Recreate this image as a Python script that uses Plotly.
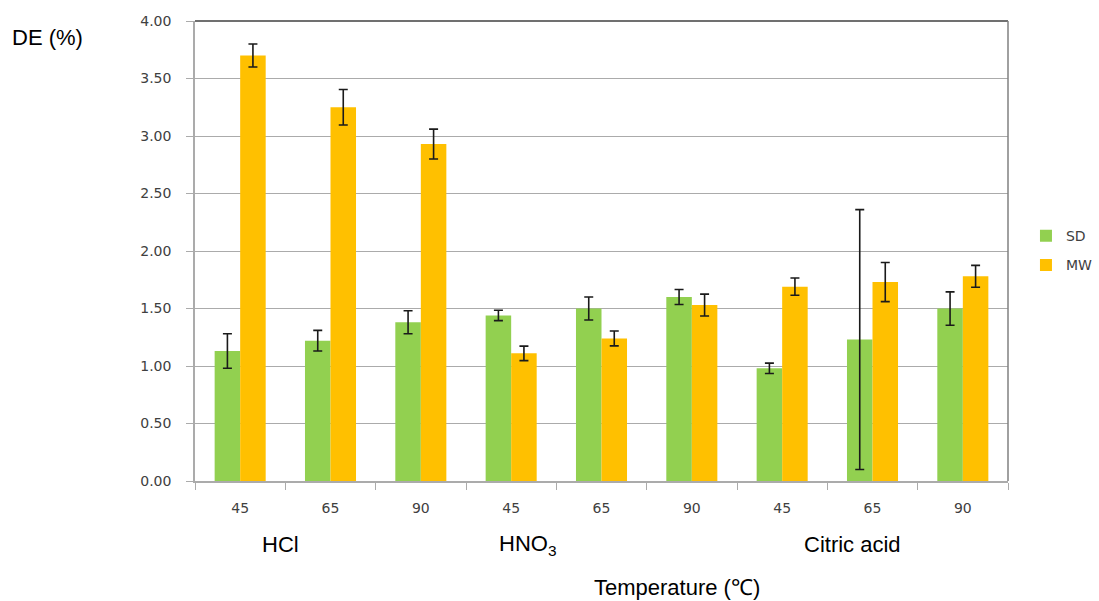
import plotly.graph_objects as go

# Degree of esterification by acid and extraction temperature
categories = ["HCl 45", "HCl 65", "HCl 90",
              "HNO3 45", "HNO3 65", "HNO3 90",
              "Citric 45", "Citric 65", "Citric 90"]
temp_labels = ["45", "65", "90", "45", "65", "90", "45", "65", "90"]

sd_values = [1.13, 1.22, 1.38, 1.44, 1.50, 1.60, 0.98, 1.23, 1.50]
sd_errors = [0.15, 0.09, 0.10, 0.045, 0.10, 0.065, 0.045, 1.13, 0.145]

mw_values = [3.70, 3.25, 2.93, 1.11, 1.24, 1.53, 1.69, 1.73, 1.78]
mw_errors = [0.10, 0.155, 0.13, 0.063, 0.065, 0.095, 0.075, 0.17, 0.095]

acid_labels = ["HCl", "HNO<sub>3</sub>", "Citric acid"]
acid_positions = [0.45, 3.18, 6.78]

GREEN = "#92D050"
ORANGE = "#FFC000"
TEXT = "#404040"
GRID = "#ababab"
LABEL_FONT = dict(family="Liberation Sans, Arial", size=22, color="#000000")
TICK_FONT = dict(family="DejaVu Sans, Verdana", size=14, color=TEXT)

err_style = dict(type="data", visible=True, color="#1a1a1a", thickness=1.6, width=4.5)

fig = go.Figure()
fig.add_trace(go.Bar(
    x=list(range(len(categories))), y=sd_values, name="SD",
    marker=dict(color=GREEN, line=dict(width=0)),
    error_y=dict(array=sd_errors, **err_style),
    legendgroup="sd",
))
fig.add_trace(go.Bar(
    x=list(range(len(categories))), y=mw_values, name="MW",
    marker=dict(color=ORANGE, line=dict(width=0)),
    error_y=dict(array=mw_errors, **err_style),
    legendgroup="mw",
))

annotations = []
for lbl, pos in zip(acid_labels, acid_positions):
    annotations.append(dict(
        x=pos, xref="x", y=-0.139, yref="paper", text=lbl, showarrow=False,
        xanchor="center", yanchor="middle", font=LABEL_FONT,
    ))
annotations.append(dict(
    x=0.593, xref="paper", y=-0.2326, yref="paper", text="Temperature (℃)",
    showarrow=False, xanchor="center", yanchor="middle",
    font=LABEL_FONT,
))
annotations.append(dict(
    x=-0.2276, xref="paper", y=0.965, yref="paper", text="DE (%)",
    showarrow=False, xanchor="left", yanchor="middle",
    font=LABEL_FONT,
))

fig.update_layout(
    width=1099, height=601,
    margin=dict(l=195, r=91, t=21, b=120, autoexpand=False),
    paper_bgcolor="white", plot_bgcolor="white",
    barmode="group", bargap=0.435, bargroupgap=0,
    showlegend=True,
    legend=dict(
        x=1.0221, y=0.567, xanchor="left", yanchor="top",
        font=dict(family="DejaVu Sans, Verdana", size=14, color=TEXT),
        tracegroupgap=8, bgcolor="rgba(0,0,0,0)",
        itemwidth=30,
    ),
    annotations=annotations,
    shapes=[
        dict(type="line", xref="paper", yref="paper", x0=0, x1=1, y0=1, y1=1,
             line=dict(color="#404040", width=1.5)),
        dict(type="line", xref="paper", yref="paper", x0=1, x1=1, y0=0, y1=1,
             line=dict(color="#808080", width=1.5)),
    ],
)

fig.update_xaxes(
    range=[-0.5, 8.5],
    tickmode="array", tickvals=list(range(len(categories))), ticktext=temp_labels,
    showgrid=False, zeroline=False,
    showline=True, linecolor=GRID, linewidth=1.5,
    ticks="", ticklabelstandoff=13,
    tickfont=TICK_FONT,
    minor=dict(tickmode="array", tickvals=[i - 0.5 for i in range(len(categories) + 1)],
               ticks="outside", ticklen=7, tickcolor=GRID, tickwidth=1.2, showgrid=False),
)
fig.update_yaxes(
    range=[0, 4], dtick=0.5, tickformat=".2f",
    showgrid=True, gridcolor=GRID, gridwidth=1.3,
    zeroline=False,
    showline=True, linecolor=GRID, linewidth=1.5,
    ticks="outside", ticklen=7, tickcolor=GRID, tickwidth=1.2,
    ticklabelstandoff=12,
    tickfont=TICK_FONT,
)

fig.write_html("out.html")
